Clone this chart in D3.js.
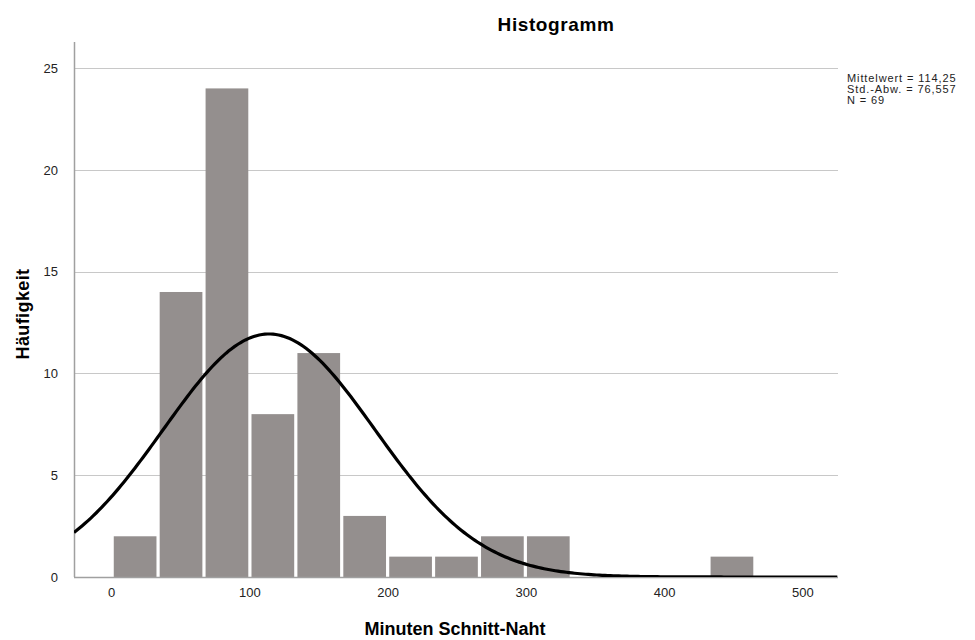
<!DOCTYPE html>
<html>
<head>
<meta charset="utf-8">
<script src="https://cdn.jsdelivr.net/npm/d3@7"></script>
<style>
  body { margin: 0; background: #fff; }
  text { font-family: "Liberation Sans", Arial, sans-serif; }
</style>
</head>
<body>
<svg width="975" height="640"></svg>
<script>
// histogram bins (minutes)
var binStart = 0.8,
    binWidth = 33.2,
    counts = [2, 14, 24, 8, 11, 3, 1, 1, 2, 2, 0, 0, 0, 1];

var xTicks = [0, 100, 200, 300, 400, 500],
    yTicks = [0, 5, 10, 15, 20, 25];

var mean = 114.25, sd = 76.557, n = 69;
var statLines = ["Mittelwert = 114,25", "Std.-Abw. = 76,557", "N = 69"];

var svg = d3.select("svg"),
    plotLeft = 74, plotRight = 838, plotTop = 42, plotBottom = 577;

var x = d3.scaleLinear()
    .domain([-26.8, 525.7])
    .range([plotLeft, plotRight]);

var y = d3.scaleLinear()
    .domain([0, 26.28])
    .range([plotBottom, plotTop]);

var bins = counts.map(function(c, i) {
  return {x0: binStart + i * binWidth, x1: binStart + (i + 1) * binWidth, count: c};
});

// grid lines
svg.append("g")
  .selectAll("line")
  .data(yTicks.slice(1))
  .join("line")
    .attr("x1", plotLeft)
    .attr("x2", plotRight)
    .attr("y1", function(d) { return Math.round(y(d)) + 0.5; })
    .attr("y2", function(d) { return Math.round(y(d)) + 0.5; })
    .attr("stroke", "#c8c8c8")
    .attr("stroke-width", 1.2);

// bars
svg.append("g")
  .selectAll("rect")
  .data(bins.filter(function(d) { return d.count > 0; }))
  .join("rect")
    .attr("x", function(d) { return x(d.x0) + 1.6; })
    .attr("width", function(d) { return x(d.x1) - x(d.x0) - 3.2; })
    .attr("y", function(d) { return y(d.count); })
    .attr("height", function(d) { return y(0) - y(d.count); })
    .attr("fill", "#948f8e");

// axes
var yAxis = d3.axisLeft(y).tickValues(yTicks).tickSize(0).tickPadding(16);
var xAxis = d3.axisBottom(x).tickValues(xTicks).tickSize(0).tickPadding(11);

var gy = svg.append("g")
    .attr("transform", "translate(" + plotLeft + ",0)")
    .call(yAxis);
gy.select(".domain").remove();
gy.append("line")
    .attr("x1", 0.5).attr("x2", 0.5)
    .attr("y1", plotTop).attr("y2", plotBottom)
    .attr("stroke", "#a0a0a0").attr("stroke-width", 1.5);

var gx = svg.append("g")
    .attr("transform", "translate(0," + plotBottom + ")")
    .call(xAxis);
gx.select(".domain").remove();
gx.append("line")
    .attr("x1", plotLeft).attr("x2", plotRight)
    .attr("y1", 0.5).attr("y2", 0.5)
    .attr("stroke", "#a0a0a0").attr("stroke-width", 1.5);

svg.selectAll(".tick text")
    .attr("font-family", "Liberation Sans, Arial, sans-serif")
    .attr("font-size", 13)
    .attr("fill", "#222");

// normal curve
svg.append("clipPath").attr("id", "clip")
  .append("rect")
    .attr("x", plotLeft).attr("y", plotTop)
    .attr("width", plotRight - plotLeft).attr("height", plotBottom - plotTop);

var curve = d3.range(x.domain()[0], x.domain()[1] + 1, 2).map(function(v) {
  var z = (v - mean) / sd;
  return [v, n * binWidth * Math.exp(-0.5 * z * z) / (sd * Math.sqrt(2 * Math.PI))];
});

svg.append("path")
    .datum(curve)
    .attr("clip-path", "url(#clip)")
    .attr("fill", "none")
    .attr("stroke", "#000")
    .attr("stroke-width", 3.2)
    .attr("d", d3.line()
      .x(function(d) { return x(d[0]); })
      .y(function(d) { return y(d[1]); }));

// titles
svg.append("text")
    .attr("x", 556).attr("y", 31)
    .attr("text-anchor", "middle")
    .attr("font-size", 19).attr("font-weight", "bold")
    .attr("letter-spacing", 0.6)
    .text("Histogramm");

svg.append("text")
    .attr("x", 455).attr("y", 635)
    .attr("text-anchor", "middle")
    .attr("font-size", 18).attr("font-weight", "bold")
    .text("Minuten Schnitt-Naht");

svg.append("text")
    .attr("transform", "translate(29,314) rotate(-90)")
    .attr("text-anchor", "middle")
    .attr("font-size", 18).attr("font-weight", "bold")
    .attr("letter-spacing", 0.4)
    .text("Häufigkeit");

svg.append("g")
  .selectAll("text")
  .data(statLines)
  .join("text")
    .attr("x", 847)
    .attr("y", function(d, i) { return 82 + i * 11; })
    .attr("font-size", 11)
    .attr("letter-spacing", 0.9)
    .attr("fill", "#222")
    .text(function(d) { return d; });
</script>
</body>
</html>
